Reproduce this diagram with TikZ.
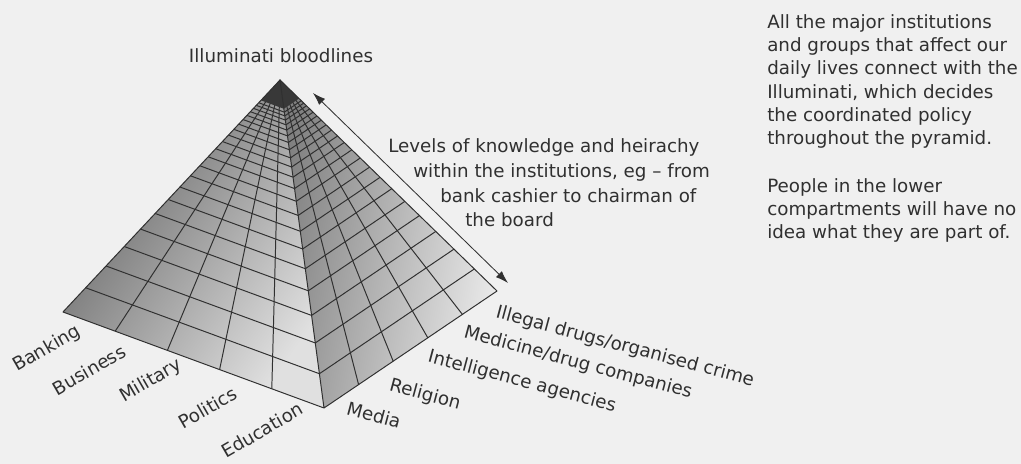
\documentclass[tikz,border=0pt]{standalone}
\usepackage{fontspec}
\setmainfont{DejaVu Sans}
\usetikzlibrary{calc,arrows.meta}
\definecolor{paper}{HTML}{F0F0F0}
\definecolor{ink}{HTML}{303030}
\definecolor{capgrey}{HTML}{383838}
\tikzset{
  txt/.style={font=\fontsize{13}{16.6}\selectfont, text=ink, inner sep=0pt},
  gridln/.style={draw=ink, line width=0.7pt},
}

\begin{document}
\begin{tikzpicture}[x=0.025cm,y=-0.025cm]
\fill [paper] (0,0) rectangle (1021,464);
\coordinate (A) at (280,80);
\coordinate (L) at (63,312);
\coordinate (F) at (324,408);
\coordinate (R) at (497,291);
\shade [top color=black!62, bottom color=black!12, shading angle=55] (A) -- (L) -- (F) -- cycle;
\shade [top color=black!50, bottom color=black!8, shading angle=80] (A) -- (F) -- (R) -- cycle;
\foreach \k in {1,...,21} {
  \pgfmathsetmacro{\tlev}{exp(-0.1106*\k)}
  \draw [gridln] ($(A)!\tlev!(L)$) -- ($(A)!\tlev!(F)$) -- ($(A)!\tlev!(R)$);
}
\foreach \i in {1,...,4} {
  \draw [gridln] ($(L)!\i/5!(F)$) -- (A);
  \draw [gridln] ($(F)!\i/5!(R)$) -- (A);
}
\pgfmathsetmacro{\tcap}{exp(-0.1106*22)}
\fill [capgrey] (A) -- ($(A)!\tcap!(L)$) -- ($(A)!\tcap!(F)$) -- ($(A)!\tcap!(R)$) -- cycle;
\draw [gridln, line join=round] (A) -- (L) -- (F) -- (R) -- cycle (A) -- (F);

\node [txt, anchor=base] (apexlbl) at (281,63) {Illuminati bloodlines};
\coordinate (up) at (313,93);
\coordinate (down) at (508,283);
\draw [ink, line width=0.6pt, {Latex[length=9pt,width=6pt]}-{Latex[length=9pt,width=6pt]}] (up) -- (down);

\node [txt, anchor=base west] (lvl1) at (388,153) {Levels of knowledge and heirachy};
\node [txt, anchor=base west] (lvl2) at (413,178) {within the institutions, eg -- from};
\node [txt, anchor=base west] (lvl3) at (440,203) {bank cashier to chairman of};
\node [txt, anchor=base west] (lvl4) at (465,227) {the board};

\node [txt, anchor=north west, align=left] (intro) at (767,14) {All the major institutions\\and groups that affect our\\daily lives connect with the\\Illuminati, which decides\\the coordinated policy\\throughout the pyramid.};
\node [txt, anchor=north west, align=left] (outro) at (767,178) {People in the lower\\compartments will have no\\idea what they are part of.};

\node [txt, rotate=30] (banking) at (47,349) {Banking};
\node [txt, rotate=30] (business) at (89,370) {Business};
\node [txt, rotate=30] (military) at (151,381) {Military};
\node [txt, rotate=30] (politics) at (208,408) {Politics};
\node [txt, rotate=30] (education) at (262,430) {Education};

\node [txt, rotate=-15] (media) at (374,415) {Media};
\node [txt, rotate=-15] (religion) at (425,395) {Religion};
\node [txt, rotate=-15] (intel) at (522,382) {Intelligence agencies};
\node [txt, rotate=-15] (medicine) at (578,363) {Medicine/drug companies};
\node [txt, rotate=-15] (crime) at (625,347) {Illegal drugs/organised crime};
\end{tikzpicture}
\end{document}
